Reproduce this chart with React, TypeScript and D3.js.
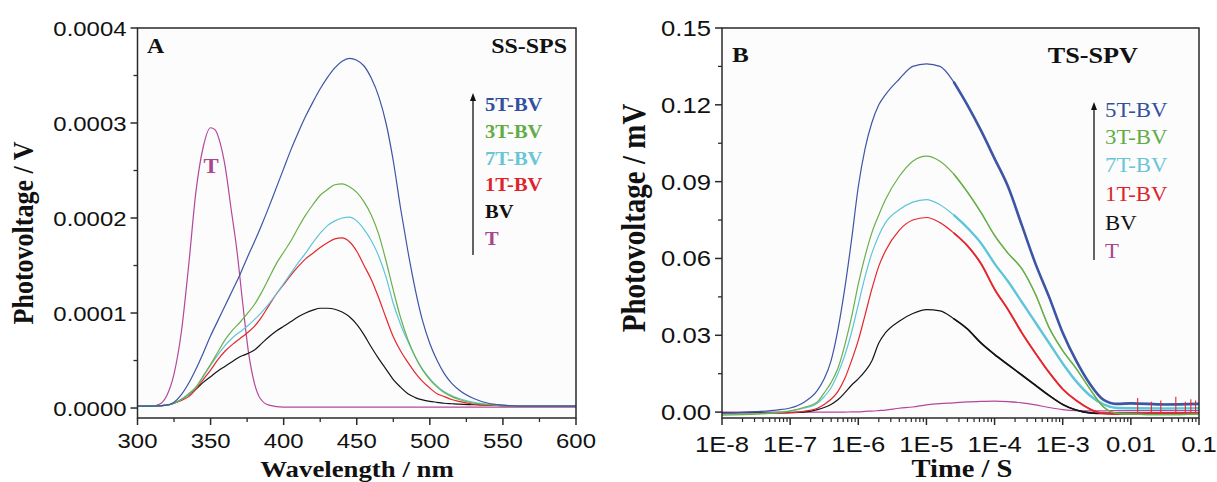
import React from "react";
import * as d3 from "d3";

// ---------- Panel A: steady-state surface photovoltage spectra (values in 1e-4 V) ----------
const WAVELENGTH = [300, 310, 320, 325, 330, 335, 340, 345, 350, 355, 360, 365, 370, 375, 380, 385, 390, 395, 400, 405, 410, 415, 420, 425, 430, 435, 440, 445, 450, 455, 460, 465, 470, 475, 480, 485, 490, 495, 500, 505, 510, 515, 520, 530, 540, 550, 560, 580, 600];
const SPS_BV = [0.02, 0.02, 0.03, 0.05, 0.09, 0.14, 0.2, 0.27, 0.33, 0.39, 0.44, 0.49, 0.54, 0.57, 0.61, 0.68, 0.75, 0.81, 0.86, 0.91, 0.96, 1.0, 1.03, 1.05, 1.05, 1.04, 1.01, 0.96, 0.88, 0.77, 0.64, 0.52, 0.41, 0.3, 0.22, 0.15, 0.11, 0.085, 0.07, 0.06, 0.05, 0.045, 0.04, 0.035, 0.03, 0.025, 0.02, 0.02, 0.02];
const SPS_1T = [0.02, 0.02, 0.03, 0.05, 0.08, 0.12, 0.2, 0.3, 0.4, 0.51, 0.6, 0.67, 0.73, 0.79, 0.86, 0.96, 1.08, 1.2, 1.3, 1.4, 1.49, 1.57, 1.63, 1.69, 1.74, 1.78, 1.79, 1.75, 1.65, 1.5, 1.35, 1.16, 0.95, 0.75, 0.6, 0.48, 0.37, 0.28, 0.21, 0.15, 0.12, 0.09, 0.07, 0.04, 0.03, 0.025, 0.02, 0.02, 0.02];
const SPS_7T = [0.02, 0.02, 0.03, 0.05, 0.09, 0.14, 0.22, 0.33, 0.45, 0.56, 0.66, 0.74, 0.8, 0.86, 0.93, 1.01, 1.1, 1.2, 1.31, 1.42, 1.53, 1.63, 1.74, 1.84, 1.92, 1.97, 2.0, 2.01, 1.97, 1.88, 1.76, 1.6, 1.38, 1.1, 0.88, 0.7, 0.54, 0.41, 0.31, 0.23, 0.17, 0.13, 0.1, 0.06, 0.04, 0.03, 0.02, 0.02, 0.02];
const SPS_3T = [0.02, 0.02, 0.03, 0.05, 0.09, 0.15, 0.22, 0.34, 0.46, 0.59, 0.72, 0.82, 0.9, 0.99, 1.09, 1.22, 1.37, 1.52, 1.64, 1.76, 1.9, 2.03, 2.14, 2.24, 2.3, 2.35, 2.36, 2.33, 2.27, 2.17, 2.03, 1.83, 1.55, 1.24, 0.95, 0.72, 0.54, 0.4, 0.3, 0.22, 0.16, 0.12, 0.09, 0.05, 0.035, 0.025, 0.02, 0.02, 0.02];
const SPS_5T = [0.02, 0.02, 0.03, 0.06, 0.14, 0.26, 0.41, 0.58, 0.76, 0.92, 1.08, 1.24, 1.4, 1.58, 1.75, 1.93, 2.12, 2.32, 2.52, 2.72, 2.9, 3.07, 3.22, 3.36, 3.48, 3.58, 3.65, 3.68, 3.66, 3.6, 3.47, 3.28, 3.0, 2.6, 2.1, 1.65, 1.25, 0.92, 0.68, 0.5, 0.36, 0.26, 0.19, 0.1, 0.05, 0.03, 0.02, 0.02, 0.02];
const WAVELENGTH_T = [300, 310, 315, 320, 325, 330, 335, 340, 345, 350, 353, 356, 360, 364, 368, 372, 376, 380, 384, 390, 400, 450, 500, 550, 600];
const SPS_T = [0.02, 0.02, 0.04, 0.13, 0.36, 0.8, 1.5, 2.28, 2.75, 2.95, 2.93, 2.82, 2.54, 2.1, 1.66, 1.1, 0.58, 0.26, 0.1, 0.03, 0.01, 0.01, 0.01, 0.01, 0.01];

const A_X_TICKS = [300, 350, 400, 450, 500, 550, 600];
const A_Y_TICKS = [0, 1, 2, 3, 4];
const A_Y_LABELS = ["0.0000", "0.0001", "0.0002", "0.0003", "0.0004"];

// ---------- Panel B: transient photovoltage (mV) ----------
const TIME = [1e-8, 3.16e-8, 6.31e-8, 1e-7, 1.58e-7, 2.51e-7, 3.16e-7, 3.98e-7, 5.01e-7, 6.31e-7, 7.94e-7, 1e-6, 1.26e-6, 1.58e-6, 2.0e-6, 2.51e-6, 3.98e-6, 6.31e-6, 1e-5, 1.58e-5, 2.51e-5, 3.98e-5, 6.31e-5, 1e-4, 1.58e-4, 2.51e-4, 3.98e-4, 6.31e-4, 1e-3, 1.58e-3, 2.51e-3, 3.98e-3, 6.31e-3, 1e-2, 3.16e-2, 1e-1];
const TPV_5T = [-0.0004, 0.0002, 0.0008, 0.0016, 0.0038, 0.0085, 0.013, 0.02, 0.032, 0.048, 0.067, 0.088, 0.103, 0.113, 0.12, 0.124, 0.13, 0.135, 0.136, 0.135, 0.129, 0.12, 0.11, 0.099, 0.088, 0.073, 0.058, 0.045, 0.031, 0.02, 0.011, 0.0048, 0.0032, 0.0034, 0.003, 0.0032];
const TPV_3T = [-0.0012, -0.0008, -0.0002, 0.0005, 0.0018, 0.004, 0.0075, 0.0115, 0.017, 0.026, 0.037, 0.05, 0.061, 0.07, 0.077, 0.083, 0.092, 0.098, 0.1, 0.098, 0.093, 0.086, 0.078, 0.069, 0.062, 0.056, 0.046, 0.033, 0.024, 0.017, 0.009, 0.002, -0.0005, -0.0008, -0.001, -0.0008];
const TPV_7T = [-0.0008, -0.0006, -0.0002, 0.0004, 0.0015, 0.0035, 0.006, 0.0095, 0.015, 0.022, 0.031, 0.042, 0.053, 0.062, 0.069, 0.074, 0.079, 0.082, 0.083, 0.081, 0.077, 0.072, 0.066, 0.058, 0.051, 0.043, 0.035, 0.027, 0.019, 0.012, 0.0065, 0.003, 0.0016, 0.0015, 0.0014, 0.0015];
const TPV_1T = [-0.0005, -0.0005, -0.0004, -0.0002, 0.0003, 0.0015, 0.003, 0.005, 0.008, 0.013, 0.02, 0.028, 0.038, 0.048, 0.057, 0.063, 0.071, 0.075, 0.076, 0.074, 0.07, 0.065, 0.058, 0.048, 0.04, 0.031, 0.023, 0.0155, 0.009, 0.0045, 0.0012, -0.0005, -0.0008, -0.0006, -0.0005, -0.0005];
const TPV_BV = [-0.0003, -0.0003, -0.0003, -0.0002, 0.0, 0.001, 0.0018, 0.003, 0.0048, 0.0075, 0.0105, 0.013, 0.016, 0.02, 0.027, 0.031, 0.0355, 0.0385, 0.04, 0.0395, 0.0365, 0.0325, 0.027, 0.0225, 0.0185, 0.0145, 0.0105, 0.0065, 0.003, 0.0008, -0.0003, -0.0005, -0.0005, -0.0005, -0.0005, -0.0005];
const TPV_T = [0, 0, 0, 0, 0, 0, 0, 0, 0, 0, 0.0001, 0.0001, 0.0003, 0.0004, 0.0006, 0.0008, 0.0015, 0.002, 0.0028, 0.0033, 0.0036, 0.004, 0.0042, 0.0043, 0.0041, 0.0036, 0.0028, 0.0018, 0.001, 0.0006, 0.0005, 0.0005, 0.0006, 0.0006, 0.0006, 0.0006];
// isolated spikes on the 1T-BV trace at long times
const SPIKE_TIME = [0.0126, 0.02, 0.0275, 0.0457, 0.063, 0.0759, 0.089];
const SPIKE_MV = [0.0055, 0.004, 0.0045, 0.006, 0.004, 0.005, 0.0045];

const B_X_TICKS = [1e-8, 1e-7, 1e-6, 1e-5, 1e-4, 1e-3, 1e-2, 1e-1];
const B_X_LABELS = ["1E-8", "1E-7", "1E-6", "1E-5", "1E-4", "1E-3", "0.01", "0.1"];
const B_Y_TICKS = [0, 0.03, 0.06, 0.09, 0.12, 0.15];
const B_Y_LABELS = ["0.00", "0.03", "0.06", "0.09", "0.12", "0.15"];

const LEGEND = ["5T-BV", "3T-BV", "7T-BV", "1T-BV", "BV", "T"];
const COLORS: Record<string, string> = {
  "5T-BV": "#3d55a5",
  "3T-BV": "#6ab04a",
  "7T-BV": "#5ec6d8",
  "1T-BV": "#e5262c",
  BV: "#151515",
  T: "#b4479b",
};
const TEXT_COLORS: Record<string, string> = {
  "5T-BV": "#33509e",
  "3T-BV": "#62ac46",
  "7T-BV": "#68c6d6",
  "1T-BV": "#e0232b",
  BV: "#111111",
  T: "#a8468f",
};

const SANS = "'Liberation Sans', Arial, sans-serif";
const SERIF = "'Liberation Serif', 'Times New Roman', serif";
const SX = 1.14; // glyphs are set slightly wide
const AXIS = "#2a2a2a";

type TxtProps = {
  x: number;
  y: number;
  size: number;
  anchor?: "start" | "middle" | "end";
  family?: string;
  weight?: string | number;
  fill?: string;
  rotate?: number;
  children: React.ReactNode;
};

function Txt({ x, y, size, anchor = "start", family = SANS, weight = "normal", fill = "#111", rotate = 0, children }: TxtProps) {
  const t = `translate(${x},${y}) scale(${SX},1)` + (rotate ? ` rotate(${rotate})` : "");
  return (
    <text transform={t} fontSize={size} fontFamily={family} fontWeight={weight} textAnchor={anchor} fill={fill}>
      {children}
    </text>
  );
}

function Legend({ x, arrowTop, arrowBottom, textX, baselines, size, weight }: { x: number; arrowTop: number; arrowBottom: number; textX: number; baselines: number[]; size: number; weight: string }) {
  return (
    <g>
      <line x1={x} x2={x} y1={arrowBottom} y2={arrowTop + 6} stroke="#111" strokeWidth={1.3} />
      <path d={`M${x},${arrowTop} L${x - 3},${arrowTop + 8} L${x + 3},${arrowTop + 8} Z`} fill="#111" />
      {LEGEND.map((k, i) => (
        <Txt key={k} x={textX} y={baselines[i]} size={size} family={SERIF} weight={weight} fill={TEXT_COLORS[k]}>
          {k}
        </Txt>
      ))}
    </g>
  );
}

export default function App() {
  // panel A geometry
  const aL = 137.5, aR = 576, aT = 28, aB = 418;
  const xA = d3.scaleLinear().domain([300, 600]).range([aL, aR]);
  const yA = d3.scaleLinear().domain([-0.105, 4]).range([aB, aT]);
  const lineA = (xs: number[], ys: number[]) =>
    d3.line<number>().x((_, i) => xA(xs[i])).y((v) => yA(v)).curve(d3.curveMonotoneX)(ys) ?? "";

  // panel B geometry
  const bL = 722, bR = 1199, bT = 28, bB = 418;
  const xB = d3.scaleLog().domain([1e-8, 1e-1]).range([bL, bR]);
  const yB = d3.scaleLinear().domain([-0.0023, 0.15]).range([bB, bT]);
  const lineB = (ys: number[], from = 0) =>
    d3
      .line<number>()
      .x((_, i) => xB(TIME[i + from]))
      .y((v) => yB(v))
      .curve(d3.curveMonotoneX)(ys.slice(from)) ?? "";

  const aXMinor = d3.range(325, 600, 50);
  const aYMinor = [0.5, 1.5, 2.5, 3.5];
  const bXMinor = xB.ticks().filter((t) => !B_X_TICKS.some((m) => Math.abs(m - t) / m < 1e-6));
  const bYMinor = [0.015, 0.045, 0.075, 0.105, 0.135];

  const seriesA: [string, number[], number[]][] = [
    ["T", WAVELENGTH_T, SPS_T],
    ["BV", WAVELENGTH, SPS_BV],
    ["1T-BV", WAVELENGTH, SPS_1T],
    ["7T-BV", WAVELENGTH, SPS_7T],
    ["3T-BV", WAVELENGTH, SPS_3T],
    ["5T-BV", WAVELENGTH, SPS_5T],
  ];
  const seriesB: [string, number[], number][] = [
    ["T", TPV_T, 0],
    ["BV", TPV_BV, 1.7],
    ["1T-BV", TPV_1T, 1.9],
    ["7T-BV", TPV_7T, 2.4],
    ["3T-BV", TPV_3T, 1.4],
    ["5T-BV", TPV_5T, 2.6],
  ];
  const tailStart = 20; // index from which the decay traces read as a noisy band

  return (
    <svg width={1217} height={482} style={{ position: "absolute", left: 0, top: 0, background: "#fff" }}>
      {/* ================= Panel A ================= */}
      <rect x={aL} y={aT} width={aR - aL} height={aB - aT} fill="#fcfcfc" />
      {seriesA.map(([k, xs, ys]) => (
        <path key={k} d={lineA(xs, ys)} fill="none" stroke={COLORS[k]} strokeWidth={1.2} />
      ))}
      <rect x={aL} y={aT} width={aR - aL} height={aB - aT} fill="none" stroke={AXIS} strokeWidth={1.5} />
      {A_Y_TICKS.map((v, i) => (
        <g key={v}>
          <line x1={aL - 7} x2={aL} y1={yA(v)} y2={yA(v)} stroke={AXIS} strokeWidth={1.5} />
          <Txt x={aL - 11} y={yA(v) + 7.5} size={21} anchor="end">
            {A_Y_LABELS[i]}
          </Txt>
        </g>
      ))}
      {aYMinor.map((v) => (
        <line key={v} x1={aL - 4} x2={aL} y1={yA(v)} y2={yA(v)} stroke={AXIS} strokeWidth={1.3} />
      ))}
      {A_X_TICKS.map((v) => (
        <g key={v}>
          <line x1={xA(v)} x2={xA(v)} y1={aB} y2={aB + 7} stroke={AXIS} strokeWidth={1.5} />
          <Txt x={xA(v)} y={448} size={21} anchor="middle">
            {v}
          </Txt>
        </g>
      ))}
      {aXMinor.map((v) => (
        <line key={v} x1={xA(v)} x2={xA(v)} y1={aB} y2={aB + 4} stroke={AXIS} strokeWidth={1.3} />
      ))}
      <Txt x={33} y={233} size={26} family={SERIF} weight="bold" anchor="middle" rotate={-90}>
        Photovoltage / V
      </Txt>
      <Txt x={357} y={477} size={23.5} family={SERIF} weight="bold" anchor="middle">
        Wavelength / nm
      </Txt>
      <Txt x={147} y={53} size={21} family={SERIF} weight="bold">
        A
      </Txt>
      <Txt x={567} y={53} size={21} family={SERIF} weight="bold" anchor="end">
        SS-SPS
      </Txt>
      <Txt x={211} y={173} size={20} family={SERIF} weight="bold" anchor="middle" fill={TEXT_COLORS.T}>
        T
      </Txt>
      <Legend x={473} arrowTop={93} arrowBottom={255} textX={485} baselines={[111, 138, 164.5, 191, 218, 244.5]} size={18} weight="bold" />

      {/* ================= Panel B ================= */}
      <rect x={bL} y={bT} width={bR - bL} height={bB - bT} fill="#fcfcfc" />
      {seriesB.map(([k, ys, tailW]) => (
        <g key={k}>
          <path d={lineB(ys)} fill="none" stroke={COLORS[k]} strokeWidth={1.2} />
          {tailW > 0 && <path d={lineB(ys, tailStart)} fill="none" stroke={COLORS[k]} strokeWidth={tailW} />}
        </g>
      ))}
      {SPIKE_TIME.map((t, i) => (
        <line key={t} x1={xB(t)} x2={xB(t)} y1={yB(0)} y2={yB(SPIKE_MV[i])} stroke={COLORS["1T-BV"]} strokeWidth={1.1} />
      ))}
      <rect x={bL} y={bT} width={bR - bL} height={bB - bT} fill="none" stroke={AXIS} strokeWidth={1.5} />
      {B_Y_TICKS.map((v, i) => (
        <g key={v}>
          <line x1={bL - 7} x2={bL} y1={yB(v)} y2={yB(v)} stroke={AXIS} strokeWidth={1.5} />
          <Txt x={bL - 11} y={yB(v) + 8} size={22.5} anchor="end">
            {B_Y_LABELS[i]}
          </Txt>
        </g>
      ))}
      {bYMinor.map((v) => (
        <line key={v} x1={bL - 4} x2={bL} y1={yB(v)} y2={yB(v)} stroke={AXIS} strokeWidth={1.3} />
      ))}
      {B_X_TICKS.map((v, i) => (
        <g key={v}>
          <line x1={xB(v)} x2={xB(v)} y1={bB} y2={bB + 7} stroke={AXIS} strokeWidth={1.5} />
          <Txt x={xB(v)} y={452} size={22.5} anchor="middle">
            {B_X_LABELS[i]}
          </Txt>
        </g>
      ))}
      {bXMinor.map((v) => (
        <line key={v} x1={xB(v)} x2={xB(v)} y1={bB} y2={bB + 4} stroke={AXIS} strokeWidth={1.2} />
      ))}
      <Txt x={645} y={218} size={29} family={SERIF} weight="bold" anchor="middle" rotate={-90}>
        Photovoltage / mV
      </Txt>
      <Txt x={962} y={477} size={25} family={SERIF} weight="bold" anchor="middle">
        Time / S
      </Txt>
      <Txt x={732} y={62} size={22} family={SERIF} weight="bold">
        B
      </Txt>
      <Txt x={1138} y={63} size={23} family={SERIF} weight="bold" anchor="end">
        TS-SPV
      </Txt>
      <Legend x={1094} arrowTop={102} arrowBottom={260} textX={1105} baselines={[116.5, 144, 172, 201, 229.5, 258]} size={20} weight="normal" />
    </svg>
  );
}
